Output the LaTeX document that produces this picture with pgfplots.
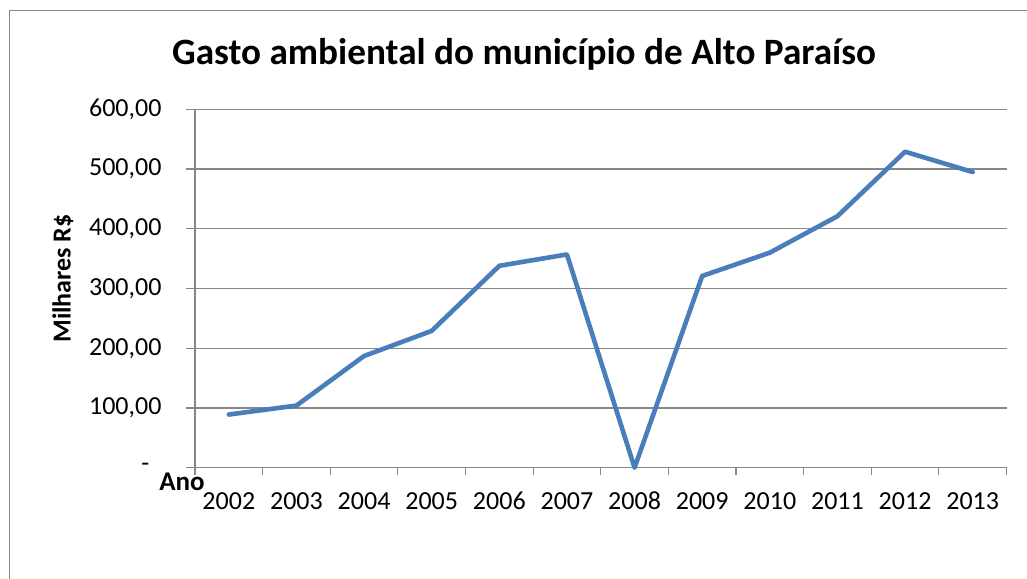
\documentclass[border=0pt]{standalone}
\usepackage{pgfplots}
\pgfplotsset{compat=1.18}
\usepackage{fontspec}
\setmainfont{Carlito}
\definecolor{linec}{HTML}{4A7EBB}
\definecolor{gridc}{HTML}{878787}
\begin{document}
\begin{tikzpicture}[x=1pt,y=1pt]
\useasboundingbox (0,0) rectangle (1027,578);
\draw[gridc, line width=1.2pt] (9.5,-5) -- (9.5,567.5) -- (1035,567.5);
\node[anchor=base, font=\fontsize{37.2}{44}\selectfont\bfseries, inner sep=0pt] at (524,513) {Gasto ambiental do município de Alto Paraíso};
\begin{axis}[
  at={(195pt,110.3pt)}, anchor=south west,
  scale only axis, width=811.5pt, height=358.4pt,
  xmin=-0.5, xmax=11.5, ymin=0, ymax=600,
  axis lines*=left,
  axis line style={gridc, line width=1.2pt},
  xtick={0,...,11},
  xticklabels={2002,2003,2004,2005,2006,2007,2008,2009,2010,2011,2012,2013},
  minor xtick={-0.5,0.5,...,11.5},
  ytick={0,100,...,600},
  yticklabels={{\makebox[20pt][l]{\raisebox{-7pt}{-}}},{100,00},{200,00},{300,00},{400,00},{500,00},{600,00}},
  tick align=outside,
  x tick style={draw=none},
  minor x tick style={draw=gridc, line width=1.2pt},
  minor tick length=7pt,
  y tick style={draw=gridc, line width=1.2pt},
  major tick length=9pt,
  ymajorgrids,
  grid style={gridc, line width=1.2pt},
  tick label style={font=\fontsize{26}{30}\selectfont},
  xticklabel style={anchor=base, text height=0pt, text depth=0pt, yshift=-32.5pt},
  yticklabel style={xshift=-21pt},
  ylabel={Milhares R\$},
  ylabel style={font=\fontsize{26}{30}\selectfont\bfseries, at={(axis description cs:-0.1627,0.528)}, anchor=center},
  xlabel={Ano},
  xlabel style={font=\fontsize{27}{30}\selectfont\bfseries, at={(axis description cs:-0.016,0)}, anchor=center, yshift=-14.3pt},
  clip=false,
]
\addplot[linec, line width=4.6pt, line join=round, line cap=round] coordinates {
(0,89) (1,104) (2,187) (3,229) (4,338) (5,357) (6,0) (7,321) (8,360) (9,421) (10,529) (11,495)
};
\end{axis}
\end{tikzpicture}
\end{document}
